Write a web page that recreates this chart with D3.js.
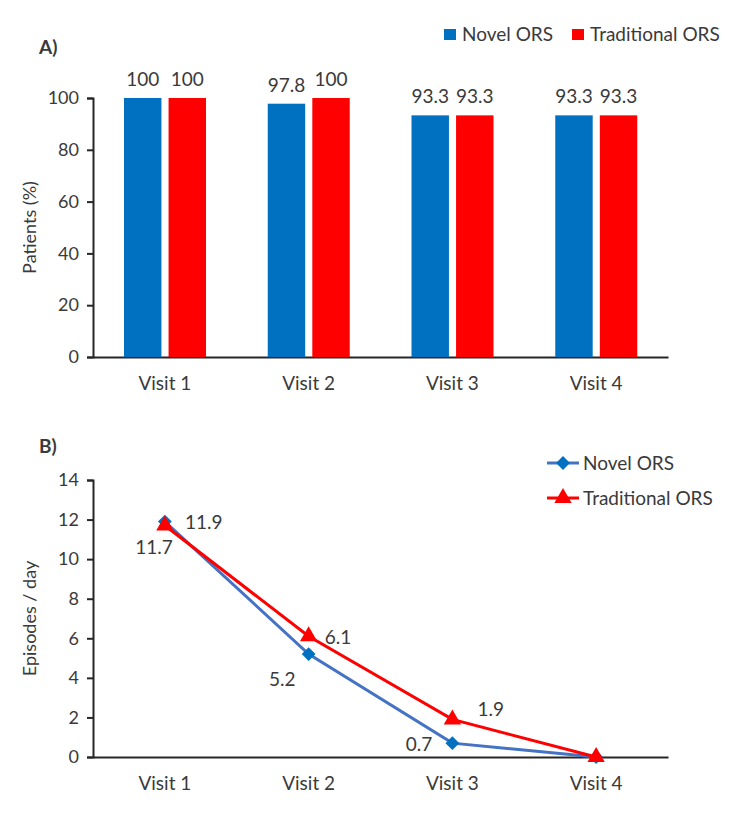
<!DOCTYPE html>
<html lang="en">
<head>
    <meta charset="UTF-8">
    <title>Novel vs Traditional ORS</title>
    <script src="https://d3js.org/d3.v7.min.js"></script>
    <style>
        body { margin: 0; background: #fff; }
        text { font-family: Lato, "Open Sans", sans-serif; fill: #3a3a3a; }
    </style>
</head>
<body>
    <svg width="750" height="827"></svg>

    <script>
        // Data
        const visits = ["Visit 1", "Visit 2", "Visit 3", "Visit 4"];
        const seriesNames = ["Novel ORS", "Traditional ORS"];
        const patientsNovel = [100, 97.8, 93.3, 93.3];
        const patientsTraditional = [100, 100, 93.3, 93.3];
        const episodesNovel = [11.9, 5.2, 0.7, 0];
        const episodesTraditional = [11.7, 6.1, 1.9, 0];
        const ticksA = [0, 20, 40, 60, 80, 100];
        const ticksB = [0, 2, 4, 6, 8, 10, 12, 14];

        const blue = "#0070C0", red = "#FF0000", lineBlue = "#4472C4";
        const svg = d3.select("svg");

        const x = d3.scaleBand().domain(visits).range([93, 668]);

        function drawAxes(y, ticks, yTitle, panel, panelY) {
            svg.append("g")
                .attr("transform", "translate(93,0)")
                .call(d3.axisLeft(y).tickValues(ticks).tickSize(6).tickPadding(8))
                .call(g => g.select(".domain").attr("stroke", "#262626").attr("stroke-width", 2))
                .call(g => g.selectAll(".tick line").attr("stroke", "#262626").attr("stroke-width", 2))
                .call(g => g.selectAll(".tick text").style("font-size", "18px")
                    .style("font-family", "Lato, sans-serif").attr("fill", "#3a3a3a"));

            svg.append("g")
                .attr("transform", `translate(0,${y(0)})`)
                .call(d3.axisBottom(x).tickSize(0).tickPadding(20))
                .call(g => g.select(".domain").attr("stroke", "#262626").attr("stroke-width", 2))
                .call(g => g.selectAll(".tick text").style("font-size", "19px")
                    .style("font-family", "Lato, sans-serif").attr("fill", "#3a3a3a"));

            const mid = (y.range()[0] + y.range()[1]) / 2;
            svg.append("text")
                .attr("transform", `translate(36,${mid}) rotate(-90)`)
                .attr("text-anchor", "middle")
                .style("font-size", "18px")
                .text(yTitle);

            svg.append("text")
                .attr("x", 39).attr("y", panelY)
                .style("font-size", "19px").style("font-weight", "bold")
                .attr("fill", "#262626")
                .text(panel);
        }

        // ---- Panel A: bars ----
        const yA = d3.scaleLinear().domain([0, 100]).range([357, 98]);
        const xSub = d3.scaleBand().domain(seriesNames).range([31, 113]).paddingInner(0.16);
        drawAxes(yA, ticksA, "Patients (%)", "A)", 54);

        const barData = visits.map((v, i) => [
            { visit: v, s: seriesNames[0], val: patientsNovel[i], color: blue },
            { visit: v, s: seriesNames[1], val: patientsTraditional[i], color: red }
        ]).flat();

        svg.append("g").selectAll("rect")
            .data(barData).join("rect")
            .attr("x", d => x(d.visit) + xSub(d.s))
            .attr("y", d => yA(d.val))
            .attr("width", xSub.bandwidth())
            .attr("height", d => yA(0) - yA(d.val))
            .attr("fill", d => d.color);

        svg.append("g").selectAll("text")
            .data(barData).join("text")
            .attr("x", d => x(d.visit) + xSub(d.s) + xSub.bandwidth() / 2)
            .attr("y", d => yA(d.val) - 12)
            .attr("text-anchor", "middle")
            .style("font-size", "19px")
            .text(d => d.val);

        // legend A
        const legA = svg.append("g");
        [[444, seriesNames[0], blue], [572, seriesNames[1], red]].forEach(([lx, name, c]) => {
            legA.append("rect").attr("x", lx).attr("y", 29).attr("width", 12).attr("height", 11).attr("fill", c);
            legA.append("text").attr("x", lx + 18).attr("y", 41).style("font-size", "19px").text(name);
        });

        // ---- Panel B: lines ----
        const yB = d3.scaleLinear().domain([0, 14]).range([757, 480]);
        drawAxes(yB, ticksB, "Episodes / day", "B)", 453);

        const cx = v => x(v) + x.bandwidth() / 2;
        const line = d3.line().x(d => cx(d.visit)).y(d => yB(d.val));
        const diamond = d3.symbol().type(d3.symbolSquare).size(95);
        const triangle = d3.symbol().type(d3.symbolTriangle).size(130);

        const novelPts = visits.map((v, i) => ({ visit: v, val: episodesNovel[i] }));
        const tradPts = visits.map((v, i) => ({ visit: v, val: episodesTraditional[i] }));

        svg.append("path").datum(novelPts)
            .attr("fill", "none").attr("stroke", lineBlue).attr("stroke-width", 3)
            .attr("d", line);
        svg.append("g").selectAll("path")
            .data(novelPts).join("path")
            .attr("transform", d => `translate(${cx(d.visit)},${yB(d.val)}) rotate(45)`)
            .attr("d", diamond).attr("fill", blue);

        svg.append("path").datum(tradPts)
            .attr("fill", "none").attr("stroke", red).attr("stroke-width", 3)
            .attr("d", line);
        svg.append("g").selectAll("path")
            .data(tradPts).join("path")
            .attr("transform", d => `translate(${cx(d.visit)},${yB(d.val)})`)
            .attr("d", triangle).attr("fill", red);

        // data labels (skip zeros)
        const novelOff = [[20, 7, "start"], [-13, 32, "end"], [-20, 8, "end"]];
        const tradOff = [[8, 28, "end"], [16, 8, "start"], [25, -3, "start"]];
        const lab = svg.append("g").style("font-size", "19px");
        novelPts.slice(0, 3).forEach((d, i) => {
            lab.append("text").attr("x", cx(d.visit) + novelOff[i][0]).attr("y", yB(d.val) + novelOff[i][1])
                .attr("text-anchor", novelOff[i][2]).text(d.val);
        });
        tradPts.slice(0, 3).forEach((d, i) => {
            lab.append("text").attr("x", cx(d.visit) + tradOff[i][0]).attr("y", yB(d.val) + tradOff[i][1])
                .attr("text-anchor", tradOff[i][2]).text(d.val);
        });

        // legend B
        const legB = svg.append("g");
        [[463, seriesNames[0], lineBlue, blue, diamond, 45], [498, seriesNames[1], red, red, triangle, 0]].forEach(([ly, name, lc, mc, sym, rot]) => {
            legB.append("line").attr("x1", 547).attr("x2", 579).attr("y1", ly).attr("y2", ly)
                .attr("stroke", lc).attr("stroke-width", 3);
            legB.append("path").attr("transform", `translate(563,${ly}) rotate(${rot})`).attr("d", sym).attr("fill", mc);
            legB.append("text").attr("x", 583).attr("y", ly + 7).style("font-size", "19px").text(name);
        });
    </script>
</body>
</html>
